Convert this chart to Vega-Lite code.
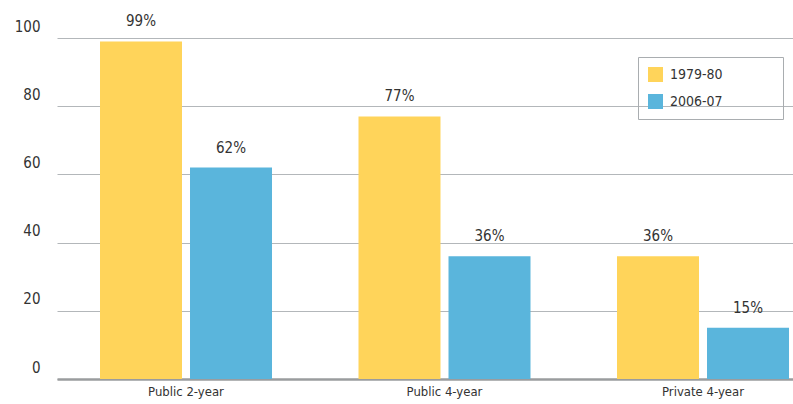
{
  "$schema": "https://vega.github.io/schema/vega-lite/v6.json",
  "width": 736,
  "height": 341,
  "autosize": {"type": "none"},
  "padding": {"left": 57, "top": 38, "right": 0, "bottom": 25},
  "background": "white",
  "config": {
    "view": {"stroke": null},
    "font": "DejaVu Sans Condensed, Roboto, sans-serif",
    "axis": {"labelFont": "DejaVu Sans Condensed, Roboto, sans-serif", "labelColor": "#333333"},
    "legend": {"labelFont": "DejaVu Sans Condensed, Roboto, sans-serif"},
    "text": {"font": "DejaVu Sans Condensed, Roboto, sans-serif"}
  },
  "data": {
    "values": [
      {"type": "Public 2-year", "period": "1979-80", "value": 99},
      {"type": "Public 2-year", "period": "2006-07", "value": 62},
      {"type": "Public 4-year", "period": "1979-80", "value": 77},
      {"type": "Public 4-year", "period": "2006-07", "value": 36},
      {"type": "Private 4-year", "period": "1979-80", "value": 36},
      {"type": "Private 4-year", "period": "2006-07", "value": 15}
    ]
  },
  "encoding": {
    "x": {
      "field": "type",
      "type": "nominal",
      "sort": ["Public 2-year", "Public 4-year", "Private 4-year"],
      "scale": {"paddingInner": 0.3346, "paddingOuter": 0.0909, "align": 0.915},
      "axis": {
        "title": null,
        "labelAngle": 0,
        "ticks": false,
        "domain": true,
        "domainColor": "#9a9c9e",
        "domainWidth": 2.5,
        "labelFontSize": 13,
        "labelPadding": 6
      }
    },
    "xOffset": {
      "field": "period",
      "type": "nominal",
      "scale": {"paddingInner": 0.089, "paddingOuter": 0}
    },
    "y": {
      "field": "value",
      "type": "quantitative",
      "scale": {"domain": [0, 100]},
      "axis": {
        "title": null,
        "values": [0, 20, 40, 60, 80, 100],
        "ticks": false,
        "domain": false,
        "grid": true,
        "gridColor": "#b3b7ba",
        "gridWidth": 1,
        "labelFontSize": 15,
        "labelPadding": 17,
        "labelBaseline": "bottom",
        "labelOffset": -4
      }
    }
  },
  "layer": [
    {
      "mark": {"type": "bar"},
      "encoding": {
        "color": {
          "field": "period",
          "type": "nominal",
          "scale": {"domain": ["1979-80", "2006-07"], "range": ["#FFD45A", "#5AB5DC"]},
          "legend": {
            "title": "\u00a0",
            "titleOrient": "right",
            "titlePadding": 50,
            "titleFontSize": 10,
            "orient": "none",
            "legendX": 581,
            "legendY": 19,
            "strokeColor": "#a9adb0",
            "padding": 10,
            "symbolType": "square",
            "symbolSize": 225,
            "symbolStrokeWidth": 0,
            "labelFontSize": 14,
            "labelColor": "#333333",
            "rowPadding": 12,
            "labelOffset": 7
          }
        }
      }
    },
    {
      "transform": [{"calculate": "datum.value + '%'", "as": "label"}],
      "mark": {"type": "text", "baseline": "bottom", "dy": -12, "fontSize": 15, "color": "#333333"},
      "encoding": {"text": {"field": "label"}}
    }
  ]
}
